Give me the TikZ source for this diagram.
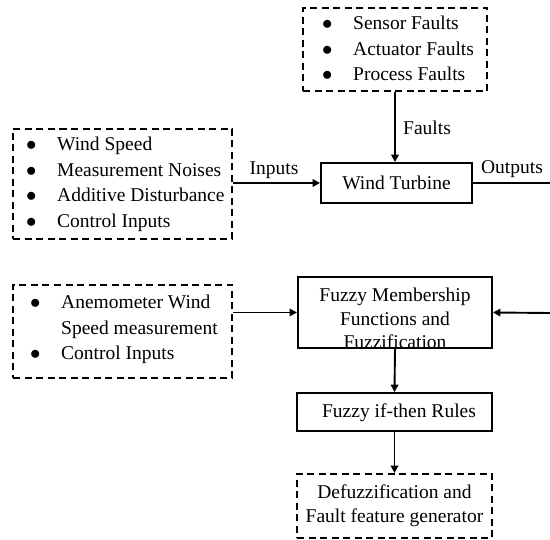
\documentclass[tikz,border=0pt]{standalone}
\usepackage{fontspec}
\setmainfont{Liberation Serif}
\usetikzlibrary{arrows.meta}
% list bullet of fixed width, dot centred in it
\newcommand{\lbul}{\makebox[10pt]{$\bullet$}}
\begin{document}
\begin{tikzpicture}[x=1pt,y=-1pt,
  txt/.style={font=\fontsize{19.5}{25.6}\selectfont},
  solidbox/.style={draw, line width=1.9pt, inner sep=0pt, txt, align=center},
  dashbox/.style={draw, line width=1.9pt, dash pattern=on 7pt off 4.5pt, inner sep=0pt, txt, align=center},
  listtxt/.style={inner sep=0pt, anchor=west, txt},
  plain/.style={inner sep=0pt, txt},
  arr/.style={line width=1.9pt, -{Triangle[length=7.5pt,width=7.5pt]}},
  wire/.style={line width=1.9pt}]
\useasboundingbox (0,0) rectangle (550,540);

% fault sources
\node[dashbox, minimum width=184, minimum height=83] (faultbox) at (395,49.5) {};
\node[listtxt] (faultlist) at (322,50) {\begin{tabular}{@{}l@{\hspace{21pt}}l@{}}
  \lbul & Sensor Faults\\
  \lbul & Actuator Faults\\
  \lbul & Process Faults
\end{tabular}};

% plant inputs
\node[dashbox, minimum width=219, minimum height=110] (inbox) at (122.5,184) {};
\node[listtxt] (inlist) at (26,184) {\begin{tabular}{@{}l@{\hspace{21pt}}l@{}}
  \lbul & Wind Speed\\
  \lbul & Measurement Noises\\
  \lbul & Additive Disturbance\\
  \lbul & Control Inputs
\end{tabular}};

% plant
\node[solidbox, minimum width=151, minimum height=40] (wturb) at (396.5,183) {Wind Turbine};

\draw[arr] (faultbox.south) -- (faultbox.south |- wturb.north);
\node[plain, anchor=west] (faultlab) at (403,128) {Faults};

\draw[arr] (inbox.east |- wturb.west) -- (wturb.west);
\node[plain] (inlab) at (274,170) {Inputs};

\coordinate (outend) at (550,183);
\draw[wire] (wturb.east) -- (outend);
\node[plain] (outlab) at (512,169) {Outputs};

% measured signals
\node[dashbox, minimum width=219, minimum height=93] (measbox) at (122.5,331.5) {};
\node[listtxt] (measlist) at (30,329) {\begin{tabular}{@{}l@{\hspace{21pt}}l@{}}
  \lbul & Anemometer Wind\\
   & Speed measurement\\
  \lbul & Control Inputs
\end{tabular}};

% fuzzy stages
\node[solidbox, minimum width=194, minimum height=71,
  path picture={\node[plain, align=center, font=\fontsize{19.5}{23.5}\selectfont, yshift=-6pt]
    at (path picture bounding box.center) {Fuzzy Membership\\Functions and\\Fuzzification};}]
  (fuzzy) at (395,312.5) {};

\node[solidbox, minimum width=195, minimum height=38] (rules) at (394.5,412) {};
\node[plain] (rulestxt) at (399,413) {Fuzzy if-then Rules};

\node[dashbox, minimum width=195, minimum height=64, font=\fontsize{19.5}{24}\selectfont]
  (defuzz) at (394.5,506) {Defuzzification and\\Fault feature generator};

\draw[arr] (measbox.east |- fuzzy.west) -- (fuzzy.west);
\coordinate (fbin) at (550,313);
\draw[arr] (fbin) -- (fuzzy.east);
\draw[arr] (fuzzy.south) -- (rules.north);
\draw[arr] (rules.south) -- (defuzz.north);
\end{tikzpicture}
\end{document}
